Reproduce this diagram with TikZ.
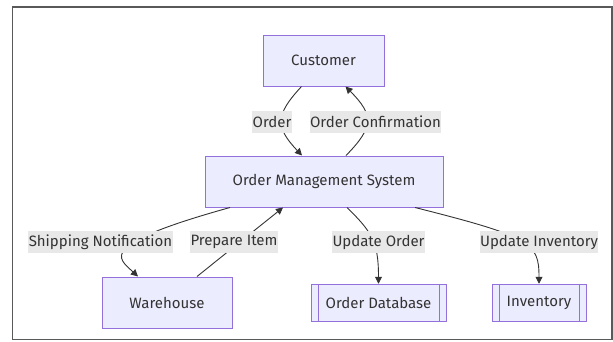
\documentclass[tikz,border=0pt]{standalone}
\usepackage{fontspec}
\setmainfont{Fira Sans}
\usetikzlibrary{arrows.meta}
\definecolor{boxfill}{HTML}{ECECFF}
\definecolor{boxline}{HTML}{9370DB}
\definecolor{lblfill}{HTML}{E8E8E8}
\definecolor{ink}{HTML}{333333}
\tikzset{
  proc/.style={draw=boxline, fill=boxfill, line width=1pt, text=ink, inner sep=0pt, minimum height=51pt},
  store/.style={proc, minimum height=37.5pt},
  lbl/.style={fill=lblfill, text=ink, inner xsep=0.5pt, inner ysep=0pt, minimum height=22pt},
  flow/.style={draw=ink, line width=0.9pt, -{Triangle[length=7pt,width=7pt]}}
}
\begin{document}
\begin{tikzpicture}[x=1pt, y=-1pt, font=\fontsize{15}{18}\selectfont]
				\useasboundingbox (0,0) rectangle (613,341);
				\draw[black!65, line width=1.5pt] (12.5,7) rectangle (612,339.5);
				\node[proc, minimum width=121pt] (cust) at (323.5, 60.5) {Customer};
				\node[proc, minimum width=238pt] (oms) at (324, 181.5) {Order Management System};
				\node[proc, minimum width=130pt] (wh) at (167, 302.5) {Warehouse};
				\node[store, minimum width=135pt] (odb) at (378.5, 303) {Order Database};
				\node[store, minimum width=94pt] (inv) at (539, 303) {Inventory};
				% side bars of the two stores
				\foreach \s in {odb, inv} {
					\draw[boxline, line width=1pt] ([xshift=7.5pt]\s.north west) -- ([xshift=7.5pt]\s.south west);
					\draw[boxline, line width=1pt] ([xshift=-7.5pt]\s.north east) -- ([xshift=-7.5pt]\s.south east);
				}
				\draw[flow] ([xshift=-22pt]cust.south) .. controls (275,115) and (275,127) .. ([xshift=-22pt]oms.north);
				\draw[flow] ([xshift=22pt]oms.north) .. controls (374,127) and (374,115) .. ([xshift=22pt]cust.south);
				\draw[flow] ([xshift=-94pt]oms.south) .. controls (95,245) and (118,258) .. ([xshift=-29pt]wh.north);
				\draw[flow] ([xshift=30pt]wh.north) -- ([xshift=-41pt]oms.south);
				\draw[flow] ([xshift=23pt]oms.south) .. controls (372,232) and (378.5,242) .. (odb.north);
				\draw[flow] ([xshift=91pt]oms.south) .. controls (532,237) and (539,243) .. (inv.north);
				\node[lbl] (l1) at (272, 121.5) {Order};
				\node[lbl] (l2) at (375.5, 121.5) {Order Confirmation};
				\node[lbl] (l3) at (100.5, 242) {Shipping Notification};
				\node[lbl] (l4) at (234, 242) {Prepare Item};
				\node[lbl] (l5) at (378.5, 242) {Update Order};
				\node[lbl] (l6) at (539, 242) {Update Inventory};
			\end{tikzpicture}
\end{document}
